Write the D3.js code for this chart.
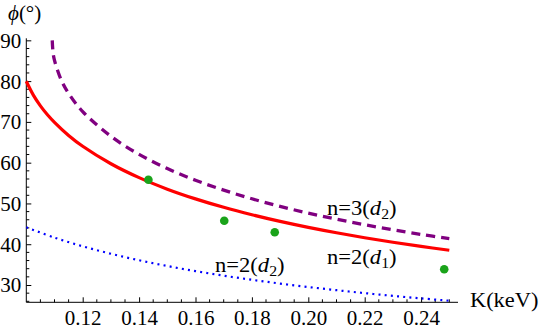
<!DOCTYPE html>
<html>
<head>
<meta charset="utf-8">
<script src="https://cdn.jsdelivr.net/npm/d3@7"></script>
<style>
    body { margin: 0; background: #fff; }
    svg { display: block; }
</style>
</head>
<body>
<div id="chart"></div>
<script>
// n=2 (d1) curve
const redK = [0.100, 0.1025, 0.105, 0.1075, 0.110, 0.115, 0.120, 0.130, 0.140, 0.150, 0.160, 0.170, 0.180, 0.190, 0.200, 0.210, 0.220, 0.230, 0.240, 0.250];
const redPhi = [79.97, 76.57, 73.93, 71.76, 69.90, 66.68, 64.02, 59.74, 56.33, 53.51, 51.12, 49.05, 47.23, 45.59, 44.13, 42.81, 41.60, 40.49, 39.47, 38.52];

// n=3 (d2) dashed curve
const purpleK = [0.1092, 0.1095, 0.110, 0.1125, 0.115, 0.120, 0.130, 0.140, 0.150, 0.160, 0.170, 0.180, 0.190, 0.200, 0.210, 0.220, 0.230, 0.240, 0.250];
const purplePhi = [90.0, 86.9, 85.07, 80.1, 77.0, 72.53, 66.47, 62.03, 58.56, 55.69, 53.27, 51.15, 49.28, 47.62, 46.14, 44.78, 43.54, 42.41, 41.37];

// n=2 (d2) dotted curve
const blueK = [0.10, 0.11, 0.12, 0.13, 0.14, 0.15, 0.16, 0.17, 0.18, 0.19, 0.20, 0.21, 0.22, 0.23, 0.24, 0.25];
const bluePhi = [44.15, 41.62, 39.49, 37.66, 36.07, 34.66, 33.41, 32.29, 31.28, 30.35, 29.51, 28.73, 28.01, 27.34, 26.72, 26.14];

// measured points
const dataK = [0.1433, 0.1702, 0.1881, 0.2482];
const dataPhi = [55.82, 45.77, 42.93, 33.85];

const xTicks = [0.12, 0.14, 0.16, 0.18, 0.20, 0.22, 0.24];
const yTicks = [30, 40, 50, 60, 70, 80, 90];

const width = 540, height = 334;
const serif = "'Liberation Serif', 'Times New Roman', Times, serif";

const svg = d3.select("#chart")
    .append("svg")
    .attr("width", width)
    .attr("height", height);

const x = d3.scaleLinear().domain([0.10, 0.25]).range([26.3, 449.3]);
const y = d3.scaleLinear().domain([25.76, 90.5]).range([302.3, 38.3]);

// minor ticks
const xMinor = d3.range(0.105, 0.2501, 0.005).filter(v => !xTicks.some(t => Math.abs(t - v) < 1e-6));
const yMinor = d3.range(26, 90.1, 2).filter(v => v % 10 !== 0);

// x axis (ticks point up into the plot)
const xAxisG = svg.append("g")
    .attr("class", "x axis")
    .attr("transform", `translate(0, ${y.range()[0]})`)
    .call(d3.axisTop(x).tickValues(xTicks).tickSize(5).tickSizeOuter(0).tickFormat(d3.format(".2f")));

xAxisG.attr("font-family", null).attr("font-size", null);
xAxisG.select(".domain").attr("d", `M${x.range()[0]},0H458`).attr("stroke", "#000");
xAxisG.selectAll(".tick line").attr("stroke", "#000");
xAxisG.selectAll(".tick text")
    .attr("x", 0)
    .attr("y", 23)
    .attr("dy", 0)
    .style("font-size", "21px")
    .style("font-family", serif)
    .attr("fill", "#000")
    .attr("text-anchor", "middle");

xAxisG.selectAll(".minor")
    .data(xMinor)
    .enter()
    .append("line")
    .attr("class", "minor")
    .attr("x1", d => x(d)).attr("x2", d => x(d))
    .attr("y1", 0).attr("y2", -3)
    .attr("stroke", "#000");

// y axis (ticks point right)
const yAxisG = svg.append("g")
    .attr("class", "y axis")
    .attr("transform", `translate(${x.range()[0]}, 0)`)
    .call(d3.axisRight(y).tickValues(yTicks).tickSize(5).tickSizeOuter(0));

yAxisG.attr("font-family", null).attr("font-size", null);
yAxisG.select(".domain").attr("d", `M0,${y.range()[0]}V${y.range()[1]}`).attr("stroke", "#000");
yAxisG.selectAll(".tick line").attr("stroke", "#000");
yAxisG.selectAll(".tick text")
    .attr("x", -5)
    .attr("dy", "0.33em")
    .style("font-size", "21px")
    .style("font-family", serif)
    .attr("fill", "#000")
    .attr("text-anchor", "end");

yAxisG.selectAll(".minor")
    .data(yMinor)
    .enter()
    .append("line")
    .attr("class", "minor")
    .attr("x1", 0).attr("x2", 3)
    .attr("y1", d => y(d)).attr("y2", d => y(d))
    .attr("stroke", "#000");

// axis labels
const yLabel = svg.append("text")
    .attr("x", 8)
    .attr("y", 20)
    .style("font-family", serif)
    .style("font-size", "21px");
yLabel.append("tspan").style("font-style", "italic").text("\u03D5");
yLabel.append("tspan").text("(\u00B0)");

svg.append("text")
    .attr("transform", "translate(470, 307) scale(1.12,1)")
    .style("font-family", serif)
    .style("font-size", "20px")
    .text("K(keV)");

// curves
const line = d3.line()
    .x(d => x(d[0]))
    .y(d => y(d[1]))
    .curve(d3.curveCatmullRom.alpha(0.5));

svg.append("path")
    .datum(blueK.map((k, i) => [k, bluePhi[i]]))
    .attr("d", line)
    .attr("fill", "none")
    .attr("stroke", "#0000ff")
    .attr("stroke-width", 2.2)
    .attr("stroke-dasharray", "2,4.2");

svg.append("path")
    .datum(purpleK.map((k, i) => [k, purplePhi[i]]))
    .attr("d", line)
    .attr("fill", "none")
    .attr("stroke", "#800080")
    .attr("stroke-width", 3.3)
    .attr("stroke-dasharray", "9,6");

svg.append("path")
    .datum(redK.map((k, i) => [k, redPhi[i]]))
    .attr("d", line)
    .attr("fill", "none")
    .attr("stroke", "#ff0000")
    .attr("stroke-width", 3.2);

svg.append("g")
    .attr("class", "points")
    .selectAll("circle")
    .data(dataK)
    .enter()
    .append("circle")
    .attr("cx", d => x(d))
    .attr("cy", (d, i) => y(dataPhi[i]))
    .attr("r", 4.3)
    .attr("fill", "#1aa31a");

// curve labels
function curveLabel(px, py, n, sub) {
    const t = svg.append("text")
        .attr("transform", `translate(${px}, ${py}) scale(1.13,1)`)
        .style("font-family", serif)
        .style("font-size", "20px");
    t.append("tspan").text(`n=${n}(`);
    t.append("tspan").style("font-style", "italic").text("d");
    t.append("tspan").style("font-size", "14px").attr("dy", 4).text(sub);
    t.append("tspan").attr("dy", -4).text(")");
}
curveLabel(327, 215, 3, "2");
curveLabel(327, 263.5, 2, "1");
curveLabel(215, 272, 2, "2");
</script>
</body>
</html>
